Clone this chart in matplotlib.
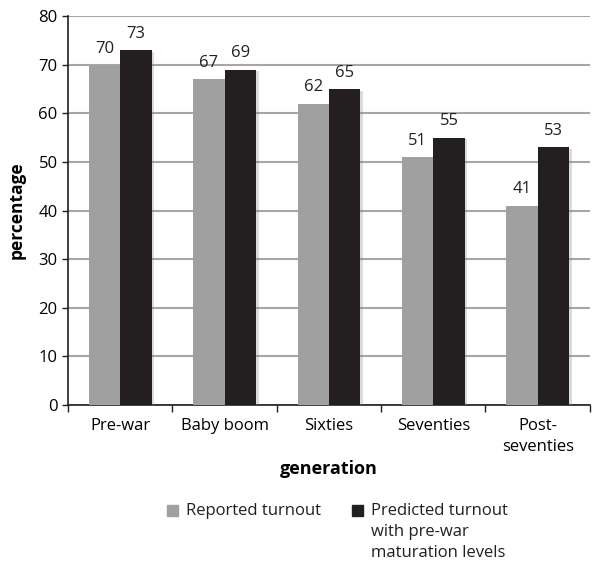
import numpy as np
import matplotlib
matplotlib.use('Agg')
from matplotlib import pyplot as plt
from matplotlib import patheffects as pe
from matplotlib.patches import Rectangle

plt.rcParams['font.family'] = ['Open Sans', 'DejaVu Sans']

"""turnout by generation"""
generations = ['Pre-war', 'Baby boom', 'Sixties', 'Seventies', 'Post-\nseventies']
reported = [70, 67, 62, 51, 41]
predicted = [73, 69, 65, 55, 53]
series_names = ['Reported turnout', 'Predicted turnout\nwith pre-war\nmaturation levels']
colors = ['#a0a0a0', '#231f20']

fig = plt.figure(figsize=(5.97, 5.61), dpi=100)
ax = fig.add_axes([0.114, 0.278, 0.874, 0.693])

x = np.arange(len(generations))
w = 0.3
shadow = [pe.SimplePatchShadow(offset=(2, -1), shadow_rgbFace='#888888', alpha=0.3), pe.Normal()]
b1 = ax.bar(x - w/2, reported, w, color=colors[0], zorder=3, path_effects=shadow)
b2 = ax.bar(x + w/2, predicted, w, color=colors[1], zorder=3, path_effects=shadow)

# value labels above each bar
for bars, vals in ((b1, reported), (b2, predicted)):
  for r, v in zip(bars, vals):
    ax.annotate(str(v), (r.get_x() + r.get_width()/2, v), xytext=(0, 6),
                textcoords='offset points', ha='center', va='bottom', fontsize=12,
                color='#231f20')

ax.set_ylim(0, 80)
ax.set_xlim(-0.5, len(generations) - 0.5)
ax.set_yticks(range(0, 81, 10))
ax.yaxis.grid(True, color='#a6a6a6', linewidth=1.5, zorder=0)
ax.set_axisbelow(True)

ax.set_xticks(np.arange(-0.5, len(generations), 1.0))
ax.set_xticklabels([])
ax.set_xticks(x, minor=True)
ax.set_xticklabels(generations, minor=True, fontsize=12)
for t in ax.get_xticklabels(minor=True):
  t.set_linespacing(1.45)
ax.tick_params(axis='x', which='minor', length=0, pad=9)
ax.tick_params(axis='x', which='major', length=5, width=1, color='#231f20')
ax.tick_params(axis='y', length=4, width=1, labelsize=12, color='#231f20')

for s in ('top', 'right'):
  ax.spines[s].set_visible(False)
ax.spines['left'].set_color('#231f20')
ax.spines['bottom'].set_color('#231f20')
ax.spines['left'].set_linewidth(1.2)
ax.spines['bottom'].set_linewidth(1.2)

ax.set_ylabel('percentage', fontsize=12.5, fontweight='bold', labelpad=9)
ax.set_xlabel('generation', fontsize=13, fontweight='bold', labelpad=4)

# legend, text hanging from the marker row
leg_x = [0.2797, 0.5896]
for lx, c, name in zip(leg_x, colors, series_names):
  fig.patches.append(Rectangle((lx, 0.0802), 0.0184, 0.0196, color=c,
                               transform=fig.transFigure, figure=fig))
  fig.text(lx + 0.032, 0.1035, name, ha='left', va='top', fontsize=12,
           linespacing=1.4, color='#231f20')

plt.savefig('out.png', dpi=100)
